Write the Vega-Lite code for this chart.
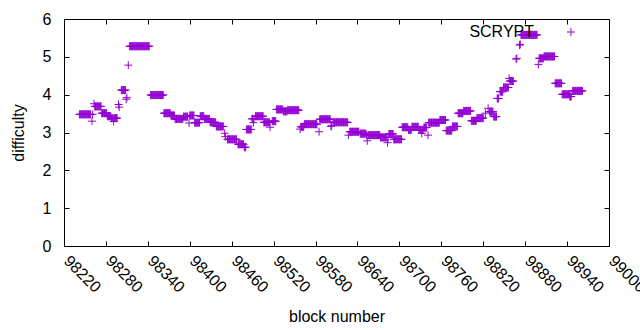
{
  "$schema": "https://vega.github.io/schema/vega-lite/v6.json",
  "autosize": "none",
  "padding": {"left": 64, "top": 19, "right": 31, "bottom": 84},
  "width": 545,
  "height": 227,
  "background": "white",
  "config": {
    "font": "Liberation Sans",
    "view": {"stroke": "black", "strokeWidth": 1},
    "axis": {"grid": false, "domain": false, "tickColor": "black", "tickSize": -5, "tickWidth": 1,
      "labelColor": "black", "titleColor": "black", "labelFontSize": 16, "titleFontSize": 16,
      "titleFontWeight": "normal", "labelFont": "Liberation Sans", "titleFont": "Liberation Sans"}
  },
  "data": {
    "values": "b,d\n98242,3.48\n98243,3.48\n98244,3.48\n98245,3.48\n98246,3.48\n98247,3.48\n98248,3.48\n98249,3.48\n98250,3.48\n98251,3.48\n98252,3.48\n98253,3.48\n98254,3.48\n98255,3.48\n98256,3.48\n98257,3.48\n98258,3.48\n98260,3.30\n98261,3.48\n98263,3.76\n98264,3.69\n98265,3.69\n98266,3.69\n98267,3.69\n98268,3.69\n98269,3.69\n98270,3.69\n98271,3.69\n98272,3.69\n98273,3.69\n98274,3.51\n98275,3.51\n98276,3.51\n98277,3.51\n98278,3.51\n98279,3.51\n98280,3.51\n98281,3.51\n98282,3.43\n98283,3.43\n98284,3.43\n98285,3.43\n98286,3.43\n98287,3.43\n98288,3.38\n98289,3.38\n98290,3.38\n98291,3.29\n98292,3.38\n98293,3.38\n98294,3.38\n98295,3.38\n98296,3.38\n98298,3.74\n98299,3.67\n98302,4.12\n98303,4.12\n98304,4.12\n98305,4.12\n98306,4.12\n98307,4.12\n98308,4.12\n98309,3.88\n98310,3.92\n98312,4.78\n98314,5.28\n98315,5.28\n98316,5.28\n98317,5.28\n98318,5.28\n98319,5.28\n98320,5.28\n98321,5.28\n98322,5.28\n98323,5.28\n98324,5.28\n98325,5.28\n98326,5.28\n98327,5.28\n98328,5.28\n98329,5.28\n98330,5.28\n98331,5.28\n98332,5.28\n98333,5.28\n98334,5.28\n98335,5.28\n98336,5.28\n98337,5.28\n98338,5.28\n98339,5.28\n98340,5.28\n98341,5.28\n98342,5.28\n98344,3.99\n98345,3.99\n98346,3.99\n98347,3.99\n98348,3.99\n98349,3.99\n98350,3.99\n98351,3.99\n98352,3.99\n98353,3.99\n98354,3.99\n98355,3.99\n98356,3.99\n98357,3.99\n98358,3.99\n98359,3.99\n98360,3.99\n98361,3.99\n98362,3.99\n98363,3.51\n98364,3.51\n98365,3.51\n98366,3.51\n98367,3.51\n98368,3.51\n98369,3.51\n98370,3.51\n98371,3.51\n98372,3.51\n98373,3.45\n98374,3.45\n98375,3.45\n98376,3.45\n98377,3.45\n98378,3.45\n98379,3.36\n98380,3.36\n98381,3.36\n98382,3.36\n98383,3.36\n98384,3.36\n98385,3.36\n98386,3.36\n98387,3.36\n98388,3.36\n98389,3.36\n98390,3.36\n98391,3.42\n98392,3.42\n98393,3.42\n98394,3.42\n98395,3.42\n98396,3.42\n98397,3.42\n98399,3.25\n98400,3.45\n98401,3.45\n98402,3.45\n98403,3.45\n98404,3.45\n98405,3.45\n98406,3.45\n98407,3.26\n98408,3.26\n98409,3.26\n98410,3.26\n98411,3.26\n98412,3.26\n98413,3.26\n98414,3.26\n98415,3.43\n98416,3.43\n98417,3.43\n98418,3.43\n98419,3.43\n98420,3.43\n98421,3.36\n98422,3.36\n98423,3.36\n98424,3.36\n98425,3.36\n98426,3.36\n98427,3.36\n98428,3.36\n98429,3.27\n98430,3.27\n98431,3.27\n98432,3.27\n98433,3.27\n98434,3.27\n98435,3.27\n98436,3.27\n98437,3.27\n98438,3.16\n98439,3.16\n98440,3.16\n98441,3.16\n98442,3.16\n98443,3.16\n98444,3.16\n98445,3.16\n98446,3.16\n98447,3.16\n98448,3.16\n98450,2.98\n98451,2.89\n98454,2.82\n98455,2.82\n98456,2.82\n98457,2.82\n98458,2.82\n98459,2.82\n98460,2.82\n98461,2.82\n98462,2.82\n98463,2.82\n98464,2.82\n98465,2.82\n98466,2.82\n98467,2.82\n98469,2.69\n98470,2.69\n98471,2.69\n98472,2.69\n98473,2.69\n98474,2.69\n98475,2.69\n98476,2.69\n98477,2.69\n98478,2.61\n98479,2.61\n98480,2.61\n98481,3.08\n98482,3.08\n98483,3.08\n98484,3.08\n98485,3.08\n98486,3.08\n98487,3.08\n98488,3.08\n98489,3.36\n98490,3.36\n98491,3.26\n98492,3.36\n98494,3.43\n98495,3.43\n98496,3.43\n98497,3.43\n98498,3.43\n98499,3.43\n98500,3.43\n98501,3.43\n98502,3.43\n98503,3.43\n98504,3.43\n98505,3.43\n98506,3.27\n98507,3.27\n98508,3.27\n98509,3.27\n98510,3.27\n98511,3.27\n98512,3.27\n98513,3.27\n98514,3.27\n98515,3.14\n98518,3.30\n98519,3.30\n98520,3.30\n98521,3.30\n98522,3.30\n98523,3.30\n98524,3.61\n98525,3.61\n98526,3.61\n98527,3.61\n98528,3.61\n98529,3.61\n98530,3.61\n98531,3.61\n98532,3.61\n98533,3.61\n98534,3.56\n98535,3.56\n98536,3.56\n98537,3.56\n98538,3.56\n98539,3.56\n98540,3.59\n98541,3.59\n98542,3.59\n98543,3.59\n98544,3.59\n98545,3.59\n98546,3.59\n98547,3.59\n98548,3.59\n98549,3.59\n98550,3.59\n98551,3.59\n98552,3.59\n98553,3.59\n98554,3.59\n98555,3.59\n98556,3.59\n98558,3.09\n98559,3.15\n98560,3.15\n98561,3.15\n98562,3.15\n98563,3.15\n98564,3.22\n98565,3.22\n98566,3.22\n98567,3.22\n98568,3.22\n98569,3.22\n98570,3.22\n98571,3.22\n98572,3.22\n98573,3.22\n98574,3.22\n98575,3.22\n98576,3.22\n98577,3.22\n98578,3.22\n98579,3.22\n98580,3.22\n98581,3.22\n98582,3.22\n98585,3.02\n98586,3.35\n98587,3.35\n98588,3.35\n98589,3.35\n98590,3.35\n98591,3.35\n98592,3.35\n98593,3.35\n98594,3.35\n98595,3.35\n98596,3.35\n98597,3.35\n98598,3.35\n98599,3.35\n98600,3.35\n98601,3.35\n98602,3.16\n98603,3.18\n98605,3.27\n98606,3.27\n98607,3.27\n98608,3.27\n98609,3.27\n98610,3.27\n98611,3.27\n98612,3.27\n98613,3.27\n98614,3.27\n98615,3.27\n98616,3.27\n98617,3.27\n98618,3.27\n98619,3.27\n98620,3.27\n98621,3.27\n98622,3.27\n98623,3.27\n98624,3.27\n98625,3.27\n98626,3.27\n98627,2.93\n98629,3.02\n98630,3.02\n98631,3.02\n98632,3.02\n98633,3.02\n98634,3.02\n98635,3.02\n98636,3.02\n98637,3.02\n98638,3.02\n98639,3.02\n98640,3.02\n98641,3.02\n98642,3.02\n98644,2.97\n98645,2.97\n98646,2.97\n98647,2.97\n98648,2.97\n98649,2.97\n98650,2.97\n98651,2.97\n98652,2.97\n98653,2.93\n98654,2.78\n98655,2.93\n98656,2.93\n98657,2.93\n98658,2.93\n98659,2.93\n98660,2.93\n98661,2.93\n98662,2.93\n98663,2.93\n98664,2.93\n98665,2.93\n98666,2.93\n98667,2.93\n98668,2.93\n98669,2.93\n98670,2.93\n98671,2.93\n98672,2.93\n98673,2.87\n98674,2.87\n98675,2.87\n98676,2.87\n98677,2.87\n98678,2.87\n98679,2.87\n98680,2.87\n98681,2.87\n98682,2.87\n98683,2.73\n98684,2.87\n98685,2.96\n98686,2.96\n98687,2.96\n98688,2.96\n98689,2.96\n98690,2.96\n98691,2.96\n98692,2.82\n98693,2.82\n98694,2.82\n98695,2.82\n98696,2.82\n98697,2.82\n98698,2.82\n98699,2.82\n98700,2.82\n98701,2.82\n98702,2.82\n98703,2.82\n98704,3.14\n98705,3.14\n98706,3.14\n98707,3.14\n98708,3.14\n98709,3.14\n98710,3.14\n98711,3.14\n98712,3.14\n98713,3.07\n98714,3.07\n98715,3.07\n98716,3.07\n98717,3.07\n98718,3.15\n98719,3.15\n98720,3.15\n98721,3.15\n98722,3.15\n98723,3.15\n98724,3.15\n98725,3.15\n98726,3.15\n98727,3.15\n98728,3.07\n98729,3.07\n98730,3.07\n98731,3.07\n98732,2.98\n98733,3.07\n98734,3.07\n98735,3.13\n98736,3.13\n98737,3.13\n98738,3.13\n98739,3.13\n98741,2.93\n98742,3.26\n98743,3.26\n98744,3.26\n98745,3.26\n98746,3.26\n98747,3.26\n98748,3.26\n98749,3.26\n98750,3.26\n98751,3.26\n98752,3.26\n98753,3.26\n98754,3.26\n98755,3.26\n98756,3.26\n98757,3.26\n98758,3.33\n98759,3.33\n98760,3.33\n98761,3.33\n98762,3.33\n98763,3.33\n98764,3.33\n98765,3.33\n98766,3.33\n98767,3.05\n98768,3.05\n98769,3.05\n98770,3.05\n98771,3.05\n98772,3.05\n98773,3.05\n98774,3.05\n98775,3.05\n98776,3.16\n98777,3.16\n98778,3.16\n98779,3.16\n98780,3.16\n98781,3.16\n98782,3.16\n98783,3.16\n98784,3.51\n98785,3.51\n98786,3.51\n98787,3.51\n98788,3.51\n98789,3.51\n98790,3.51\n98791,3.51\n98792,3.57\n98793,3.57\n98794,3.57\n98795,3.57\n98796,3.57\n98797,3.57\n98798,3.57\n98799,3.57\n98800,3.57\n98801,3.57\n98802,3.57\n98803,3.31\n98804,3.31\n98805,3.31\n98806,3.31\n98807,3.31\n98808,3.31\n98809,3.31\n98810,3.31\n98811,3.38\n98812,3.38\n98813,3.38\n98814,3.38\n98815,3.38\n98816,3.38\n98817,3.38\n98818,3.38\n98819,3.38\n98820,3.38\n98823,3.51\n98827,3.64\n98829,3.55\n98830,3.55\n98831,3.55\n98832,3.55\n98833,3.55\n98834,3.55\n98835,3.42\n98836,3.42\n98837,3.42\n98838,3.42\n98839,3.42\n98840,3.90\n98841,3.90\n98842,3.90\n98844,4.08\n98845,4.08\n98846,4.08\n98847,4.08\n98848,4.08\n98849,4.19\n98850,4.19\n98851,4.19\n98852,4.19\n98853,4.19\n98854,4.19\n98855,4.19\n98856,4.19\n98857,4.43\n98858,4.36\n98859,4.36\n98860,4.36\n98861,4.36\n98862,4.36\n98863,4.36\n98867,4.94\n98868,4.96\n98872,5.31\n98873,5.33\n98874,5.58\n98875,5.58\n98876,5.58\n98877,5.58\n98878,5.58\n98879,5.58\n98880,5.58\n98881,5.58\n98882,5.58\n98883,5.58\n98884,5.58\n98885,5.58\n98886,5.58\n98887,5.58\n98888,5.58\n98889,5.58\n98890,5.58\n98891,5.58\n98892,5.58\n98893,5.58\n98894,5.58\n98895,5.58\n98896,5.58\n98897,5.58\n98899,4.80\n98900,4.96\n98901,4.96\n98902,4.96\n98903,4.96\n98904,4.96\n98905,4.96\n98906,4.96\n98907,5.01\n98908,5.01\n98909,5.01\n98910,5.01\n98911,5.01\n98912,5.01\n98913,5.01\n98914,5.01\n98915,5.01\n98916,5.01\n98917,5.01\n98918,5.01\n98919,5.01\n98920,5.01\n98921,5.01\n98922,5.01\n98923,4.30\n98924,4.30\n98925,4.30\n98926,4.30\n98927,4.30\n98928,4.30\n98929,4.30\n98930,4.30\n98931,4.30\n98932,4.30\n98933,4.01\n98934,4.01\n98935,4.01\n98936,4.01\n98937,4.01\n98938,4.01\n98939,4.01\n98940,4.01\n98941,4.01\n98942,4.01\n98943,4.01\n98944,3.95\n98945,3.95\n98946,3.95\n98948,4.10\n98949,4.10\n98950,4.10\n98951,4.10\n98952,4.10\n98953,4.10\n98954,4.10\n98955,4.10\n98956,4.10\n98957,4.10\n98958,4.10\n98959,4.10\n98960,4.10\n98961,4.10\n98962,4.10",
    "format": {"type": "csv", "parse": {"b": "number", "d": "number"}}
  },
  "layer": [
    {
      "mark": {"type": "point", "shape": "M-1,0H1M0,-1V1", "filled": false, "strokeWidth": 1, "size": 64, "opacity": 1},
      "encoding": {
        "x": {"field": "b", "type": "quantitative",
          "scale": {"domain": [98220, 99000], "nice": false, "zero": false},
          "axis": {"values": [98220, 98280, 98340, 98400, 98460, 98520, 98580, 98640, 98700, 98760, 98820, 98880, 98940, 99000],
            "format": "d", "labelAngle": 45, "labelAlign": "left", "labelBaseline": "middle", "labelPadding": 17, "labelOffset": 2,
            "labelOverlap": false, "labelFlush": false, "title": "block number", "titlePadding": 13}},
        "y": {"field": "d", "type": "quantitative",
          "scale": {"domain": [0, 6], "nice": false, "zero": true},
          "axis": {"values": [0, 1, 2, 3, 4, 5, 6], "format": "d", "labelPadding": 18, "title": "difficulty", "titlePadding": 16}},
        "color": {"datum": "SCRYPT", "type": "nominal",
          "scale": {"range": ["#9400d3"]},
          "legend": {"orient": "none", "legendX": 499, "legendY": 5, "title": null, "padding": 0,
            "labelFontSize": 16, "labelColor": "black", "labelFont": "Liberation Sans", "labelAlign": "right", "labelOffset": -45,
            "symbolSize": 64, "symbolStrokeWidth": 1, "symbolType": "M-1,0H1M0,-1V1"}}
      }
    },
    {
      "mark": {"type": "point", "opacity": 0},
      "encoding": {
        "x": {"field": "b", "type": "quantitative",
          "axis": {"orient": "top", "values": [98220, 98280, 98340, 98400, 98460, 98520, 98580, 98640, 98700, 98760, 98820, 98880, 98940, 99000], "labels": false, "title": null}},
        "y": {"field": "d", "type": "quantitative",
          "axis": {"orient": "right", "values": [0, 1, 2, 3, 4, 5, 6], "labels": false, "title": null}}
      }
    }
  ],
  "resolve": {"axis": {"x": "independent", "y": "independent"}}
}
